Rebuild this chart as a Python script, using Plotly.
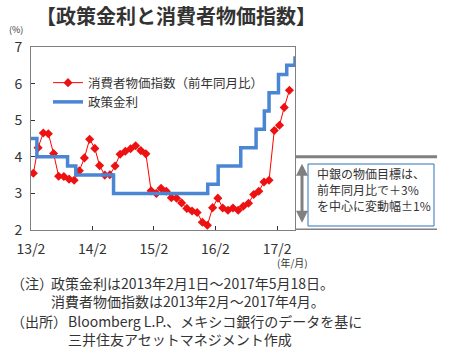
import plotly.graph_objects as go

# ---------------- data ----------------
cpi_months = [
    "2013-02", "2013-03", "2013-04", "2013-05", "2013-06", "2013-07", "2013-08", "2013-09", "2013-10", "2013-11", "2013-12",
    "2014-01", "2014-02", "2014-03", "2014-04", "2014-05", "2014-06", "2014-07", "2014-08", "2014-09", "2014-10", "2014-11", "2014-12",
    "2015-01", "2015-02", "2015-03", "2015-04", "2015-05", "2015-06", "2015-07", "2015-08", "2015-09", "2015-10", "2015-11", "2015-12",
    "2016-01", "2016-02", "2016-03", "2016-04", "2016-05", "2016-06", "2016-07", "2016-08", "2016-09", "2016-10", "2016-11", "2016-12",
    "2017-01", "2017-02", "2017-03", "2017-04",
]
cpi_values = [
    3.55, 4.25, 4.65, 4.63, 4.09, 3.47, 3.46, 3.39, 3.36, 3.62, 3.97,
    4.48, 4.23, 3.76, 3.50, 3.51, 3.75, 4.07, 4.15, 4.22, 4.30, 4.17, 4.08,
    3.07, 3.00, 3.14, 3.06, 2.88, 2.87, 2.74, 2.59, 2.52, 2.48, 2.21, 2.13,
    2.61, 2.87, 2.60, 2.54, 2.60, 2.54, 2.65, 2.73, 2.97, 3.06, 3.31, 3.36,
    4.72, 4.86, 5.35, 5.82,
]

rate_dates = [
    "2013-02-01", "2013-03-08", "2013-09-06", "2013-10-25", "2014-06-06", "2015-12-17",
    "2016-02-17", "2016-06-30", "2016-09-29", "2016-11-17", "2016-12-15", "2017-02-09",
    "2017-03-30", "2017-05-18",
]
rate_values = [4.50, 4.00, 3.75, 3.50, 3.00, 3.25, 3.75, 4.25, 4.75, 5.25, 5.75, 6.25, 6.50, 6.75]

x_tick_vals = ["2013-02-01", "2014-02-01", "2015-02-01", "2016-02-01", "2017-02-01"]
x_tick_text = ["13/2", "14/2", "15/2", "16/2", "17/2"]
y_tick_vals = [2, 3, 4, 5, 6, 7]

cpi_name = "消費者物価指数（前年同月比）"
rate_name = "政策金利"
title_text = "【政策金利と消費者物価指数】"
target_lines = ["中銀の物価目標は、", "前年同月比で＋3%", "を中心に変動幅±1%"]
target_band = [2, 4]

# ---------------- geometry helpers ----------------
W, H = 449, 354
L, R, T, B = 31, 295, 47, 230
PW, PH = R - L, B - T
def px(x):
    return (x - L) / PW
def py(y):
    return (B - y) / PH

FONT = "Noto Sans CJK JP"
TXT = "#333333"
GRAY = "#808080"

cpi_dates = [m + "-15" for m in cpi_months]

fig = go.Figure()
fig.add_trace(go.Scatter(
    x=cpi_dates, y=cpi_values, name=cpi_name, mode="lines+markers",
    line=dict(color="#ff0000", width=1),
    marker=dict(symbol="diamond", size=7, color="#ee1111", line=dict(width=0)),
))
fig.add_trace(go.Scatter(
    x=rate_dates, y=rate_values, name=rate_name, mode="lines",
    line=dict(color="#4a86d4", width=3.5, shape="hv"),
))

fig.update_layout(
    width=W, height=H, autosize=False,
    margin=dict(l=L, r=W - R, t=T, b=H - B),
    paper_bgcolor="white", plot_bgcolor="white",
    font=dict(family=FONT, color=TXT, size=13),
    title=dict(text=title_text, x=36 / W, xanchor="left", y=1 - 17 / H, yanchor="middle",
               font=dict(family=FONT, size=20, color="#333333", weight="bold")),
    legend=dict(x=px(48), y=py(68), xanchor="left", yanchor="top",
                bgcolor="rgba(0,0,0,0)", font=dict(size=12.5, color=TXT),
                tracegroupgap=0, itemwidth=30),
    showlegend=True,
)
fig.update_xaxes(
    type="date", range=["2013-02-01", "2017-05-18"],
    tickvals=x_tick_vals, ticktext=x_tick_text,
    ticks="inside", ticklen=4, tickcolor="#333333",
    showgrid=False, zeroline=False,
    showline=True, linecolor=GRAY, linewidth=1, mirror=True,
    tickfont=dict(size=14, color=TXT), ticklabelstandoff=6,
)
fig.update_yaxes(
    range=[2, 7], tickvals=y_tick_vals,
    ticks="inside", ticklen=4, tickcolor="#333333",
    showgrid=False, zeroline=False,
    showline=True, linecolor=GRAY, linewidth=1, mirror=True,
    tickfont=dict(size=14, color=TXT), ticklabelstandoff=5,
)

# target band lines
for v in target_band:
    fig.add_shape(type="line", xref="paper", yref="y", x0=1.0, x1=px(437), y0=v, y1=v,
                  line=dict(color=GRAY, width=3))

# double arrow
fig.add_annotation(xref="paper", yref="y", x=px(302), y=target_band[0] + 0.2,
                   axref="pixel", ayref="y", ax=0, ay=target_band[1] - 0.15,
                   showarrow=True, arrowside="end+start", arrowhead=2, arrowsize=0.8,
                   arrowwidth=3, arrowcolor=GRAY, text="")

# target text box
fig.add_shape(type="rect", xref="paper", yref="paper", x0=px(308), x1=px(434), y0=py(226), y1=py(164),
              line=dict(color="#2e75b6", width=1), fillcolor="white")
for i, t in enumerate(target_lines):
    fig.add_annotation(xref="paper", yref="paper", x=px(316), y=py(173 + 16 * i),
                       xanchor="left", yanchor="middle", text=t, showarrow=False,
                       borderpad=0, font=dict(size=12, color=TXT))

# (%) label
fig.add_annotation(xref="paper", yref="paper", x=px(16), y=py(30), xanchor="center", yanchor="middle",
                   text="(%)", showarrow=False, font=dict(size=9, color=TXT))
# (年/月)
fig.add_annotation(xref="paper", yref="paper", x=px(292), y=py(262), xanchor="center", yanchor="middle",
                   text="(年/月)", showarrow=False, font=dict(size=10, color=TXT))

# footnotes
notes = [
    (10, 283, "（注）"),
    (50, 283, "政策金利は2013年2月1日～2017年5月18日。"),
    (50, 301, "消費者物価指数は2013年2月～2017年4月。"),
    (10, 321, "（出所）"),
    (67, 321, "Bloomberg L.P.、メキシコ銀行のデータを基に"),
    (67, 339, "三井住友アセットマネジメント作成"),
]
for x0, y0, t in notes:
    fig.add_annotation(xref="paper", yref="paper", x=px(x0), y=py(y0), xanchor="left", yanchor="middle",
                       text=t, showarrow=False, borderpad=0, font=dict(size=14, color=TXT))

fig.write_html("out.html")
